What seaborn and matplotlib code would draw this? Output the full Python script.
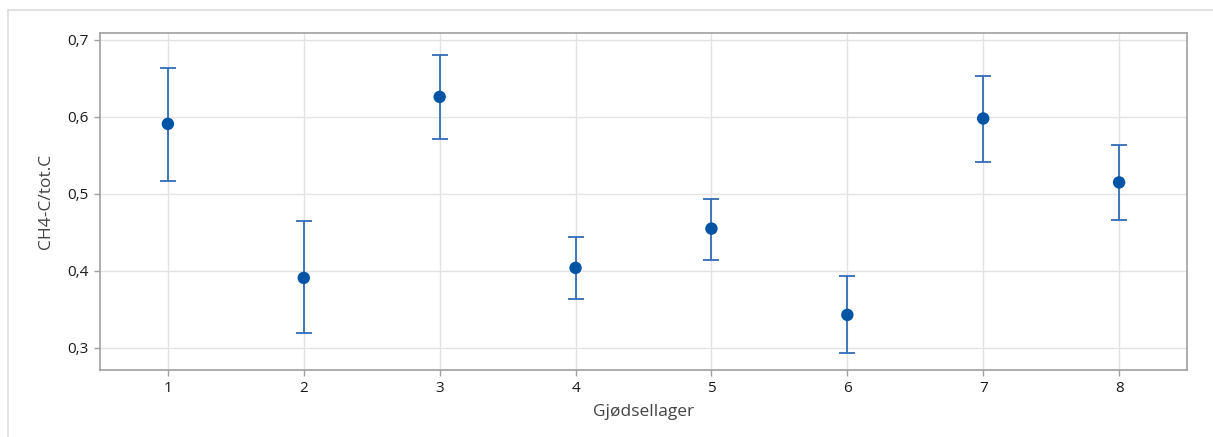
import matplotlib
matplotlib.use("Agg")
import matplotlib.pyplot as plt
from matplotlib.ticker import FuncFormatter
from matplotlib.lines import Line2D
import seaborn as sns
import pandas as pd

# values
lager = [1, 2, 3, 4, 5, 6, 7, 8]
mean = [0.591, 0.391, 0.626, 0.404, 0.455, 0.343, 0.598, 0.515]
upper = [0.664, 0.465, 0.680, 0.444, 0.494, 0.393, 0.653, 0.563]
lower = [0.517, 0.320, 0.572, 0.364, 0.414, 0.294, 0.542, 0.466]

df = pd.DataFrame({"Gjødsellager": lager, "CH4-C/tot.C": mean})

sns.set_theme(style="whitegrid")
plt.rcParams["font.family"] = ["Open Sans", "DejaVu Sans"]

fig = plt.figure(figsize=(12.13, 4.37), dpi=100)
ax = fig.add_axes([0.0824, 0.1533, 0.8962, 0.7712])

err_lo = [m - l for m, l in zip(mean, lower)]
err_hi = [u - m for m, u in zip(mean, upper)]
ax.errorbar(lager, mean, yerr=[err_lo, err_hi], fmt="none", ecolor="#2F6DB5",
            elinewidth=1.3, capsize=6, capthick=1.3, zorder=2)
sns.scatterplot(data=df, x="Gjødsellager", y="CH4-C/tot.C", ax=ax, color="#0054A6",
                s=80, edgecolor="none", zorder=3)

ax.set_xlim(0.5, 8.5)
ax.set_ylim(0.2714, 0.709)
ax.set_xticks(lager)
ax.set_yticks([0.3, 0.4, 0.5, 0.6, 0.7])
ax.yaxis.set_major_formatter(FuncFormatter(lambda v, p: f"{v:.1f}".replace(".", ",")))

ax.grid(True, color="#E3E3E3", linewidth=1)
for s in ax.spines.values():
    s.set_color("#A0A0A0")
    s.set_linewidth(1.2)
ax.tick_params(axis="both", which="major", length=4, width=1, color="#A0A0A0",
               labelsize=11, labelcolor="#1A1A1A", pad=4, bottom=True, left=True)
for lbl in ax.get_xticklabels() + ax.get_yticklabels():
    lbl.set_fontweight("medium")
ax.set_xlabel("Gjødsellager", fontsize=12.5, color="#444444", labelpad=6)
ax.set_ylabel("CH4-C/tot.C", fontsize=12.5, color="#444444", labelpad=10)

# light outer frame
fig.add_artist(Line2D([8 / 1213, 1], [1 - 10 / 437, 1 - 10 / 437], color="#DDDDDD", lw=1.2))
fig.add_artist(Line2D([8 / 1213, 8 / 1213], [0, 1 - 10 / 437], color="#DDDDDD", lw=1.2))

fig.savefig("out.png", dpi=100)
